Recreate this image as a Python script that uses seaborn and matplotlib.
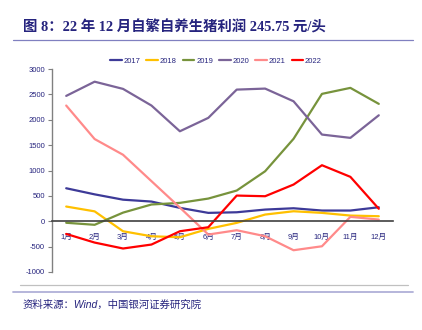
import matplotlib
matplotlib.use("Agg")
import matplotlib.pyplot as plt
import seaborn as sns
import pandas as pd
from matplotlib.lines import Line2D

months = ['1月', '2月', '3月', '4月', '5月', '6月', '7月', '8月', '9月', '10月', '11月', '12月']
years = ['2017', '2018', '2019', '2020', '2021', '2022']
v2017 = [650, 530, 425, 388, 264, 165, 177, 230, 256, 211, 211, 276]
v2018 = [290, 195, -197, -296, -315, -150, -32, 132, 197, 165, 112, 99]
v2019 = [-30, -70, 170, 330, 362, 447, 605, 985, 1624, 2510, 2628, 2313]
v2020 = [2470, 2750, 2608, 2280, 1773, 2037, 2594, 2614, 2364, 1708, 1643, 2088]
v2021 = [2280, 1620, 1310, 790, 270, -262, -177, -295, -571, -493, 87, 33]
v2022 = [-250, -420, -537, -459, -197, -118, 506, 493, 723, 1104, 875, 245.75]
yticks = [-1000, -500, 0, 500, 1000, 1500, 2000, 2500, 3000]

colors = ['#3d3a98', '#ffc000', '#77933c', '#7b6498', '#ff8a8a', '#ff0000']
navy = '#26247e'

sns.set_style("white")
plt.rcParams['font.family'] = ['Liberation Sans Narrow', 'Liberation Sans', 'Noto Sans CJK SC']

series = [v2017, v2018, v2019, v2020, v2021, v2022]
df = pd.DataFrame({
    'month': months * len(years),
    'value': [v for s in series for v in s],
    'year': [y for y in years for _ in months],
})

fig = plt.figure(figsize=(4.22, 3.30), dpi=100)
ax = fig.add_axes([52/422, (330-272)/330, (393-52)/422, (272-69)/330])
sns.lineplot(data=df, x='month', y='value', hue='year', palette=colors,
             sort=False, linewidth=1.6, ax=ax, legend=True)
handles, labels = ax.get_legend_handles_labels()
ax.get_legend().remove()

ax.set_xlim(-0.5, 11.5)
ax.set_ylim(-1000, 3000)
ax.set_yticks(yticks)
ax.set_yticklabels([str(t) for t in yticks], fontsize=5.5, color=navy)
ax.set_xlabel('')
ax.set_ylabel('')

# x axis at zero
ax.spines['bottom'].set_position(('data', 0))
ax.spines['bottom'].set_color('#404040')
ax.spines['bottom'].set_linewidth(1.2)
ax.spines['top'].set_visible(False)
ax.spines['right'].set_visible(False)
ax.spines['left'].set_color('#808080')
ax.spines['left'].set_linewidth(1.0)
ax.set_xticks([i + 0.5 for i in range(12)])
ax.set_xticklabels([])
ax.set_xticks(range(12), minor=True)
ax.set_xticklabels(months, minor=True, fontsize=5.5, color=navy)
ax.tick_params(axis='x', which='major', direction='inout', length=5, color='#404040', width=0.8)
ax.tick_params(axis='x', which='minor', length=0, pad=9)
ax.tick_params(axis='y', direction='out', length=3, color='#808080', width=0.8, pad=2, left=True)
ax.grid(False)

leg = fig.legend(handles=[Line2D([0], [0], color=c, lw=1.6) for c in colors], labels=years,
                 loc='center', bbox_to_anchor=(216/422, 1 - 61/330), ncol=6, frameon=False,
                 fontsize=5.5, handlelength=1.5, handletextpad=0.25, columnspacing=0.8,
                 borderaxespad=0)
for t in leg.get_texts():
    t.set_color(navy)

fig.text(23/422, 1 - 27/330, '图 8：22 年 12 月自繁自养生猪利润 245.75 元/头',
         fontsize=10.4, fontweight='bold', color=navy, va='center', ha='left',
         family=['Liberation Serif', 'Noto Sans CJK SC'])
fig.add_artist(Line2D([13/422, 413/422], [1 - 40/330, 1 - 40/330], color='#8080c0', lw=0.9))
fig.add_artist(Line2D([20/422, 408/422], [1 - 285/330, 1 - 285/330], color='#c0c0c0', lw=0.9))
fig.add_artist(Line2D([13/422, 413/422], [1 - 292/330, 1 - 292/330], color='#b0b0d8', lw=1.3))
fig.text(23/422, 1 - 305/330, '资料来源：Wind，中国银河证券研究院', fontsize=7.5, style='italic',
         color=navy, va='center', ha='left', family=['Liberation Sans', 'Noto Sans CJK SC'])

fig.savefig('out.png', dpi=100)
